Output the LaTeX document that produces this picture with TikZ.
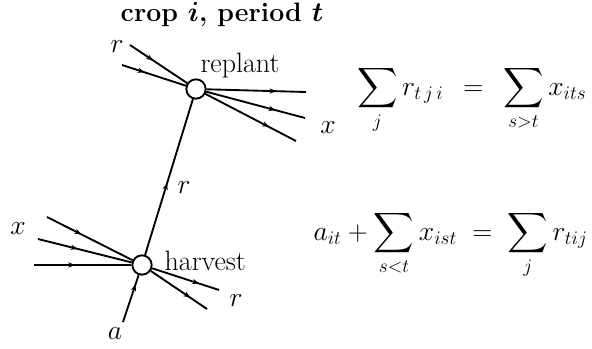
\documentclass[tikz,border=0pt]{standalone}
\usepackage{amsmath,amssymb}
\usetikzlibrary{arrows.meta,decorations.markings}
\tikzset{
  hub/.style={circle,draw,fill=white,line width=1.4pt,minimum size=14.5pt,inner sep=0pt},
  flow/.style={line width=1.4pt,postaction={decorate},
    decoration={markings,mark=at position #1 with {\arrow{Stealth[length=5pt,width=4pt]}}}},
  flow/.default=0.45,
  lbl/.style={font=\fontsize{21}{25}\selectfont,inner sep=1pt}
}
\begin{document}
\begin{tikzpicture}[x=0.75pt,y=-0.75pt]
        \useasboundingbox (0,0) rectangle (592,349);
        \node[lbl,font=\fontsize{20}{24}\selectfont\bfseries,inner sep=0pt] (title) at (222,15) {crop $\boldsymbol{i}$, period $\boldsymbol{t}$};
        % replant node and its flows
        \node[hub] (replant) at (196,89) {};
        \node[lbl,anchor=south] (replantlbl) at (240,80) {replant};
        \coordinate (rin1) at (130,45);
        \coordinate (rin2) at (122,65);
        \coordinate (rout1) at (306,92);
        \coordinate (rout2) at (305,118);
        \coordinate (rout3) at (296,141);
        \draw[flow=0.4] (rin1) -- (replant);
        \draw[flow=0.35] (rin2) -- (replant);
        \draw[flow=0.7] (replant) -- (rout1);
        \draw[flow=0.7] (replant) -- (rout2);
        \draw[flow=0.7] (replant) -- (rout3);
        \node[lbl] (rlbl1) at (117,47) {$r$};
        \node[lbl] (xlbl1) at (328,128) {$x$};
        % harvest node and its flows
        \node[hub] (harvest) at (142,265) {};
        \node[lbl,anchor=west] (harvestlbl) at (163,261) {harvest};
        \coordinate (hin1) at (47,217);
        \coordinate (hin2) at (38,239);
        \coordinate (hin3) at (34,265);
        \coordinate (ain) at (123,322);
        \coordinate (hout1) at (219,290);
        \coordinate (hout2) at (207,309);
        \draw[flow=0.4] (hin1) -- (harvest);
        \draw[flow=0.42] (hin2) -- (harvest);
        \draw[flow=0.42] (hin3) -- (harvest);
        \draw[flow=0.8] (ain) -- (harvest);
        \draw[flow=0.7] (harvest) -- (hout1);
        \draw[flow=0.7] (harvest) -- (hout2);
        \draw[flow=0.46] (harvest) -- (replant);
        \node[lbl] (xlbl2) at (18,229) {$x$};
        \node[lbl] (rlbl2) at (236,301) {$r$};
        \node[lbl] (albl) at (115,334) {$a$};
        \node[lbl] (rlbl3) at (184,188) {$r$};
        % balance equations
        \node[lbl,anchor=east] (eqreplant) at (588,100) {$\displaystyle\sum_{j} r_{t\,j\,i} \;\,=\;\, \sum_{s>t} x_{its}$};
        \node[lbl,anchor=west] (eqharvest) at (312,245) {$\displaystyle a_{it}+\sum_{s<t} x_{ist} \;=\; \sum_{j} r_{tij}$};
      \end{tikzpicture}
\end{document}
